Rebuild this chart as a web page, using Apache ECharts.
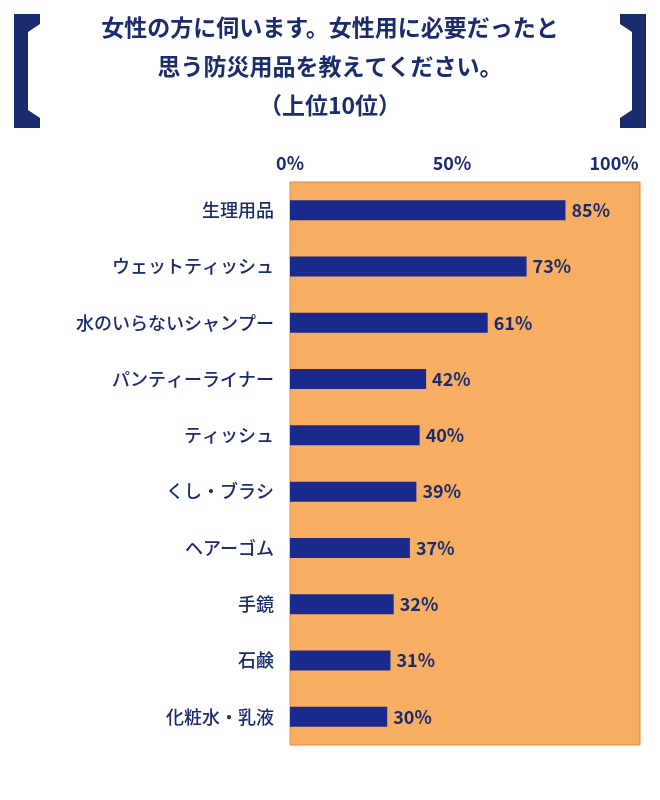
<!DOCTYPE html>
<html>
<head>
<meta charset="utf-8">
<script src="https://cdn.jsdelivr.net/npm/echarts@6/dist/echarts.min.js"></script>
<style>
  html, body { margin: 0; padding: 0; background: #fff; }
  #main { width: 660px; height: 800px; }
</style>
</head>
<body>
<div id="main"></div>
<script>
// data, top to bottom
const items = ['生理用品', 'ウェットティッシュ', '水のいらないシャンプー', 'パンティーライナー', 'ティッシュ', 'くし・ブラシ', 'ヘアーゴム', '手鏡', '石鹸', '化粧水・乳液'];
const percents = [85, 73, 61, 42, 40, 39, 37, 32, 31, 30];
const titleLines = ['女性の方に伺います。女性用に必要だったと', '思う防災用品を教えてください。', '（上位10位）'];

const navy = '#1a2c6e';
const font = '"Noto Sans CJK JP", sans-serif';

let myChart = echarts.init(document.getElementById('main'));
let option = {
    backgroundColor: '#fff',
    textStyle: { fontFamily: font },
    graphic: [
        { type: 'polygon', shape: { points: [[14, 14], [40, 14], [40, 24], [28, 32], [28, 110], [40, 118], [40, 128], [14, 128]] }, style: { fill: navy } },
        { type: 'polygon', shape: { points: [[646, 14], [620, 14], [620, 24], [632, 32], [632, 110], [620, 118], [620, 128], [646, 128]] }, style: { fill: navy } },
        { type: 'text', left: 'center', top: 16, style: { text: titleLines[0], fill: navy, font: 'bold 23px ' + font } },
        { type: 'text', left: 'center', top: 55, style: { text: titleLines[1], fill: navy, font: 'bold 23px ' + font } },
        { type: 'text', left: 'center', top: 94, style: { text: titleLines[2], fill: navy, font: 'bold 23px ' + font } }
    ],
    grid: {
        left: 290, width: 350, top: 182, height: 563,
        show: true, backgroundColor: '#f7ad62', borderColor: '#e08a3e', borderWidth: 1,
        containLabel: false
    },
    xAxis: {
        type: 'value', position: 'top', min: 0, max: 108, interval: 50,
        axisLine: { show: false }, axisTick: { show: false }, splitLine: { show: false },
        axisLabel: {
            showMaxLabel: false, formatter: '{value}%', color: navy,
            fontSize: 18, fontWeight: 'bold', margin: 10
        }
    },
    yAxis: {
        type: 'category', inverse: true, data: items,
        axisLine: { show: false }, axisTick: { show: false },
        axisLabel: { color: navy, fontSize: 18, fontWeight: 500, margin: 16 }
    },
    series: [{
        type: 'bar', data: percents, barWidth: 20,
        itemStyle: { color: '#1a2a8c' },
        label: { show: true, position: 'right', formatter: '{c}%', color: navy, fontSize: 18, fontWeight: 'bold', distance: 6 }
    }]
};
myChart.setOption(option);
</script>
</body>
</html>
